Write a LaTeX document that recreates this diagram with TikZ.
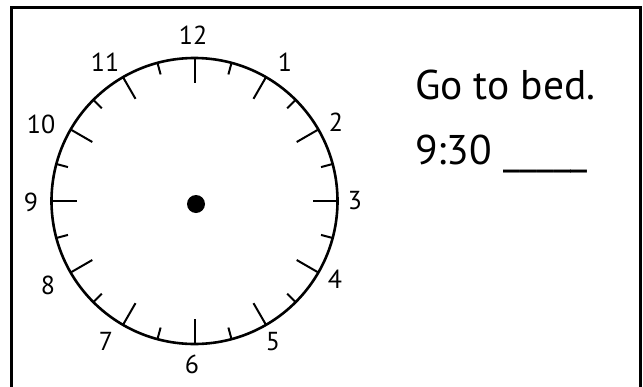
\documentclass[tikz,border=0pt]{standalone}
\usepackage{fontspec}
\setmainfont{PT Sans}
\begin{document}
\begin{tikzpicture}[x=1pt,y=-1pt,
  frame/.style={line width=3pt},
  face/.style={line width=2.6pt},
  tickline/.style={line width=2pt},
  num/.style={font=\fontsize{26}{26}\selectfont, inner sep=0pt},
  bigtext/.style={font=\fontsize{41.5}{41.5}\selectfont, inner sep=0pt, anchor=base west}]
\useasboundingbox (0,0) rectangle (643,386);
\draw[frame] (11,7.5) rectangle (640,400);
\coordinate (c) at (194.5,201);
\draw[face] (c) circle[radius=143];
\foreach \k in {0,...,23}{
  \pgfmathsetmacro\len{mod(\k,2)==0 ? 25 : 12}
  \draw[tickline] ({194.5+143*sin(15*\k)},{201-143*cos(15*\k)}) -- ({194.5+(143-\len)*sin(15*\k)},{201-(143-\len)*cos(15*\k)});
}
\node[circle, fill=black, minimum size=18pt, inner sep=0pt] (hub) at (196,204) {};
\node[num] (n12) at (193,35) {12};
\node[num] (n1) at (285,62) {1};
\node[num] (n2) at (336,122) {2};
\node[num] (n3) at (355,201) {3};
\node[num] (n4) at (335,279) {4};
\node[num] (n5) at (273,342) {5};
\node[num] (n6) at (192,364) {6};
\node[num] (n7) at (106,341) {7};
\node[num] (n8) at (48,285) {8};
\node[num] (n9) at (31,202) {9};
\node[num] (n10) at (41,124) {10};
\node[num] (n11) at (105,62) {11};
\node[bigtext] (title) at (415,99) {Go to bed.};
\node[bigtext] (time) at (415,164) {9:30 \_\_\_\_\_};
\end{tikzpicture}
\end{document}
